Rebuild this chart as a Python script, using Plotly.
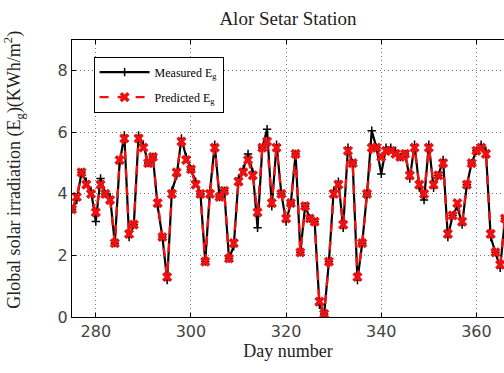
import plotly.graph_objects as go

days = list(range(275, 367))

measured = [3.5, 3.8, 4.7, 4.4, 4.1, 3.1, 4.5, 4.0, 3.9, 2.4,
            5.0, 5.9, 2.6, 3.0, 5.9, 5.6, 5.0, 5.2, 3.6, 2.6,
            1.2, 4.1, 4.6, 5.8, 5.2, 4.8, 4.4, 4.0, 1.8, 4.1,
            5.6, 3.9, 4.1, 1.9, 2.3, 4.5, 4.8, 5.3, 4.7, 2.9,
            5.5, 6.1, 3.6, 5.6, 4.0, 3.1, 3.7, 5.3, 2.1, 3.6,
            3.2, 3.1, 0.4, 0.1, 1.8, 4.1, 4.4, 2.9, 5.5, 5.0,
            1.2, 2.4, 4.0, 6.05, 5.5, 4.65, 5.5, 5.5, 5.4, 5.2,
            5.3, 4.5, 5.6, 4.2, 3.8, 5.6, 4.2, 4.6, 5.1, 2.6,
            3.3, 3.6, 3.0, 4.3, 5.0, 5.4, 5.6, 5.4, 2.6, 2.1,
            1.6, 3.2]

predicted = [3.5, 3.9, 4.7, 4.3, 4.0, 3.4, 4.3, 4.0, 3.8, 2.4,
             5.1, 5.8, 2.7, 3.0, 5.8, 5.5, 5.0, 5.2, 3.7, 2.6,
             1.3, 4.0, 4.7, 5.7, 5.1, 4.8, 4.3, 4.0, 1.8, 4.0,
             5.5, 3.9, 4.1, 1.9, 2.4, 4.4, 4.7, 5.1, 4.6, 3.4,
             5.5, 5.7, 3.7, 5.5, 4.0, 3.2, 3.7, 5.3, 2.1, 3.6,
             3.2, 3.1, 0.5, 0.1, 1.8, 4.0, 4.3, 3.0, 5.4, 5.0,
             1.3, 2.4, 4.0, 5.5, 5.5, 5.2, 5.4, 5.4, 5.3, 5.2,
             5.3, 4.6, 5.5, 4.3, 4.0, 5.5, 4.3, 4.6, 5.0, 2.7,
             3.3, 3.7, 3.1, 4.3, 5.0, 5.4, 5.5, 5.3, 2.7, 2.1,
             1.7, 3.2]

x_ticks = [280, 300, 320, 340, 360]
y_ticks = [0, 2, 4, 6, 8]

serif = "Liberation Serif, Times New Roman, serif"
sans = "DejaVu Sans, sans-serif"

fig = go.Figure()
fig.add_trace(go.Scatter(
    x=days, y=measured, mode="lines+markers",
    name="Measured E<sub>g</sub>", legendgroup="m",
    line=dict(color="black", width=2.2),
    marker=dict(symbol="cross-thin", size=6, color="black",
                line=dict(color="black", width=1.5)),
))
fig.add_trace(go.Scatter(
    x=days, y=predicted, mode="lines+markers",
    name="Predicted E<sub>g</sub>", legendgroup="p",
    line=dict(color="#ee1111", width=2.4, dash="dash"),
    marker=dict(symbol="x", size=9, color="#ee1111"),
))

fig.update_layout(
    width=504, height=373,
    margin=dict(l=72, r=0, t=40, b=56),
    paper_bgcolor="white", plot_bgcolor="white",
    title=dict(text="Alor Setar Station", x=0.5, xref="paper", xanchor="center",
               y=0.952, yanchor="middle",
               font=dict(family=serif, size=19, color="#222")),
    showlegend=True,
    legend=dict(x=0.05, y=0.94, xanchor="left", yanchor="top",
                bgcolor="white", bordercolor="black", borderwidth=1,
                font=dict(family=serif, size=12, color="black"),
                itemwidth=50, tracegroupgap=6),
    xaxis=dict(range=[275, 365.8], tickvals=x_ticks, ticks="inside",
               ticklen=4, tickcolor="black", showline=True, linecolor="black",
               linewidth=1, mirror="ticks", showgrid=True, gridcolor="#777",
               griddash="1px,3px", gridwidth=1, zeroline=False,
               tickfont=dict(family=sans, size=16, color="#444"),
               title=dict(text="Day number", standoff=2,
                          font=dict(family=serif, size=18, color="#222"))),
    yaxis=dict(range=[0, 9], tickvals=y_ticks, ticks="inside", ticklen=4,
               tickcolor="black", showline=True, linecolor="black", linewidth=1,
               showgrid=True, gridcolor="#777", griddash="1px,3px", gridwidth=1,
               zeroline=False,
               tickfont=dict(family=sans, size=16, color="#444")),
)

fig.add_annotation(
    text="Global solar irradiation (E<sub>g</sub>)(KWh/m<sup>2</sup>)",
    xref="paper", yref="paper", x=-0.135, y=0.53,
    xanchor="center", yanchor="middle", textangle=-90, showarrow=False,
    font=dict(family=serif, size=18, color="#222"),
)

fig.write_html("out.html")
